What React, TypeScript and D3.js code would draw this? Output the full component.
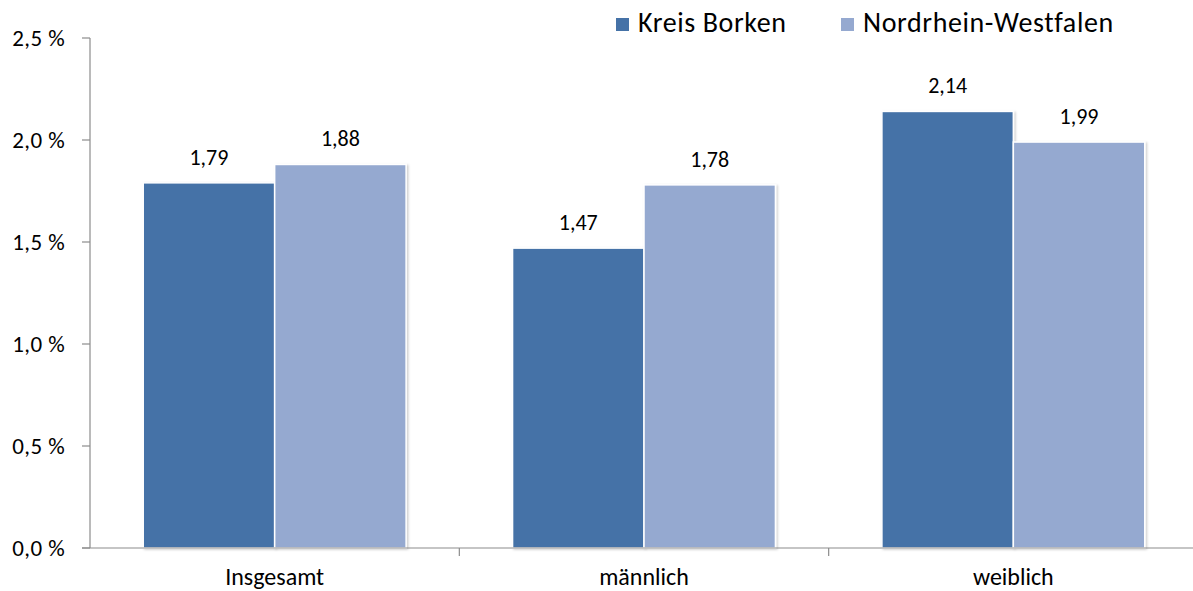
import * as d3 from "d3";
import { useEffect, useRef } from "react";

const categories = ["Insgesamt", "männlich", "weiblich"];
const seriesNames = ["Kreis Borken", "Nordrhein-Westfalen"];
const kreisBorken = [1.79, 1.47, 2.14];
const nrw = [1.88, 1.78, 1.99];
const yTicks = [0, 0.5, 1.0, 1.5, 2.0, 2.5];

const colors = ["#4572a7", "#95a9d0"];
const font = "Carlito, Calibri, 'Noto Sans', sans-serif";

export default function App() {
  const ref = useRef<SVGSVGElement | null>(null);
  const width = 1193;
  const height = 591;

  useEffect(() => {
    const svg = d3.select(ref.current);
    svg.selectAll("*").remove();

    const left = 90;
    const right = 1198;
    const top = 38;
    const bottom = 548;

    const x = d3.scaleBand<string>().domain(categories).range([left, right]);
    const sub = d3
      .scaleBand<number>()
      .domain([0, 1])
      .range([0, x.bandwidth()])
      .paddingOuter(0.405);
    const y = d3.scaleLinear().domain([0, 2.5]).range([bottom, top]);

    const defs = svg.append("defs");
    const filter = defs
      .append("filter")
      .attr("id", "shadow")
      .attr("x", "-10%")
      .attr("y", "-10%")
      .attr("width", "130%")
      .attr("height", "130%");
    filter
      .append("feDropShadow")
      .attr("dx", 1.5)
      .attr("dy", 1)
      .attr("stdDeviation", 1.2)
      .attr("flood-color", "#000")
      .attr("flood-opacity", 0.2);

    const series = [kreisBorken, nrw];

    // Balken + Werte
    series.forEach((vals, si) => {
      svg
        .append("g")
        .selectAll("rect")
        .data(vals)
        .join("rect")
        .attr("x", (_, i) => x(categories[i])! + sub(si)!)
        .attr("y", (d) => y(d))
        .attr("width", sub.bandwidth())
        .attr("height", (d) => y(0) - y(d))
        .attr("fill", colors[si])
        .attr("stroke", "#fff")
        .attr("stroke-width", 1.5)
        .attr("filter", "url(#shadow)");

      svg
        .append("g")
        .selectAll("text")
        .data(vals)
        .join("text")
        .attr("x", (_, i) => x(categories[i])! + sub(si)! + sub.bandwidth() / 2)
        .attr("y", (d) => y(d) - 18)
        .attr("text-anchor", "middle")
        .style("font-family", font)
        .style("font-size", "22px")
        .attr("fill", "#000")
        .text((d) => d3.format(".2f")(d).replace(".", ","));
    });

    // Y-Achse
    const yAxis = svg.append("g");
    yAxis
      .append("line")
      .attr("x1", left)
      .attr("x2", left)
      .attr("y1", top)
      .attr("y2", bottom)
      .attr("stroke", "#8c8c8c")
      .attr("stroke-width", 1.2);
    yAxis
      .selectAll("line.tick")
      .data(yTicks)
      .join("line")
      .attr("class", "tick")
      .attr("x1", left - 8)
      .attr("x2", left)
      .attr("y1", (d) => y(d))
      .attr("y2", (d) => y(d))
      .attr("stroke", "#8c8c8c")
      .attr("stroke-width", 1.2);
    yAxis
      .selectAll("text")
      .data(yTicks)
      .join("text")
      .attr("x", 65)
      .attr("y", (d) => y(d) + 7.5)
      .attr("text-anchor", "end")
      .style("font-family", font)
      .style("font-size", "23px")
      .style("letter-spacing", "0.4px")
      .attr("fill", "#000")
      .text((d) => d3.format(".1f")(d).replace(".", ",") + " %");

    // X-Achse
    const xAxis = svg.append("g");
    xAxis
      .append("line")
      .attr("x1", left - 8)
      .attr("x2", width)
      .attr("y1", bottom)
      .attr("y2", bottom)
      .attr("stroke", "#8c8c8c")
      .attr("stroke-width", 1.2);
    xAxis
      .selectAll("line.tick")
      .data(categories.slice(1))
      .join("line")
      .attr("class", "tick")
      .attr("x1", (d) => x(d)!)
      .attr("x2", (d) => x(d)!)
      .attr("y1", bottom)
      .attr("y2", bottom + 8)
      .attr("stroke", "#8c8c8c")
      .attr("stroke-width", 1.2);
    xAxis
      .selectAll("text")
      .data(categories)
      .join("text")
      .attr("x", (d) => x(d)! + x.bandwidth() / 2)
      .attr("y", 585)
      .attr("text-anchor", "middle")
      .style("font-family", font)
      .style("font-size", "24px")
      .attr("fill", "#000")
      .text((d) => d);

    // Legende
    const legendX = [616, 841];
    const legend = svg
      .append("g")
      .selectAll("g")
      .data(seriesNames)
      .join("g")
      .attr("transform", (_, i) => `translate(${legendX[i]},0)`);
    legend
      .append("rect")
      .attr("x", 0)
      .attr("y", 18)
      .attr("width", 13)
      .attr("height", 13)
      .attr("fill", (_, i) => colors[i]);
    legend
      .append("text")
      .attr("x", 22)
      .attr("y", 32)
      .style("font-family", font)
      .style("font-size", "28px")
      .style("letter-spacing", "0.6px")
      .attr("fill", "#000")
      .text((d) => d);
  }, []);

  return (
    <svg
      ref={ref}
      width={width}
      height={height}
      style={{ position: "absolute", left: 0, top: 0, background: "#fff" }}
    />
  );
}
